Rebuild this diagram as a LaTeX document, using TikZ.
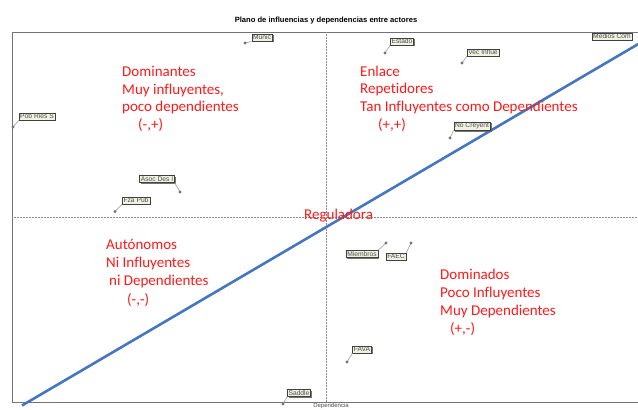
\documentclass[tikz,border=0pt]{standalone}
\usepackage{fontspec}
\setmainfont{Carlito}[Ligatures=NoCommon]
\newfontfamily\lblfont{Liberation Sans}
\usetikzlibrary{shadows}
\definecolor{regred}{RGB}{255,25,25}
\definecolor{diagblue}{RGB}{70,118,190}
\definecolor{boxfill}{RGB}{242,242,226}
\begin{document}
\begin{tikzpicture}[x=1pt,y=-1pt,
  actor/.style={draw=black!75, fill=boxfill, text=black!70, font=\lblfont\fontsize{6.7}{7.5}\selectfont, inner xsep=1.3pt, inner ysep=1.2pt, line width=0.5pt, drop shadow={shadow xshift=1.3pt, shadow yshift=-1.3pt, fill=black!60, opacity=0.9}},
  pindot/.style={fill=black!55, draw=none},
  pinline/.style={draw=black!35, line width=0.7pt},
  region/.style={text=regred, font=\fontsize{15}{18}\selectfont, inner sep=0pt, anchor=base west},
  frameline/.style={draw=black!55, line width=1pt},
  guide/.style={draw=black!45, densely dotted, line width=0.5pt},
]
\useasboundingbox (0,0) rectangle (638,410);
% title and axis caption
\node[font=\lblfont\bfseries\fontsize{7.6}{9}\selectfont, anchor=base] (title) at (326,22) {Plano de influencias y dependencias entre actores};
\node[font=\lblfont\fontsize{6}{7}\selectfont, text=black!70, anchor=north, inner sep=0.5pt] (xlab) at (331,402.5) {Dependencia};
% frame
\coordinate (tl) at (12,32);
\coordinate (tr) at (638,32);
\coordinate (bl) at (12,402);
\coordinate (br) at (638,402);
\draw[frameline] (tr) -- (tl) -- (bl) -- (br);
% guides
\coordinate (vt) at (326,32);
\coordinate (vb) at (326,402);
\coordinate (hl) at (12,217);
\coordinate (hr) at (638,217);
\draw[guide] (vt) -- (vb);
\draw[guide] (hl) -- (hr);
% diagonal
\coordinate (dA) at (22,405.5);
\coordinate (dB) at (640,43);
\draw[diagblue, line width=2.6pt] (dA) -- (dB);
% actors
\node[actor] (munic) at (262,37.5) {Munic};
\node[actor] (pob) at (37,116.5) {Pob Ries S};
\node[actor] (estado) at (402,41.5) {Estado};
\node[actor] (vec) at (483,52.5) {Vec Influe};
\node[actor] (medios) at (612,36.5) {Medios Com};
\node[actor] (nocre) at (472,126) {No Creyent};
\node[actor] (asoc) at (157,179) {Asoc Des I};
\node[actor] (fza) at (136,200.5) {Fza Pub};
\node[actor] (miem) at (362,254) {Miembros};
\node[actor] (faec) at (396,256.5) {FAEC};
\node[actor] (fava) at (362,349.5) {FAVA};
\node[actor] (saddle) at (299,393) {Saddle};
% pins
\coordinate (pmunic) at (245,43);
\coordinate (ppob) at (13,127);
\coordinate (pestado) at (385,53);
\coordinate (pvec) at (462,63);
\coordinate (pnocre) at (450,138);
\coordinate (pasoc) at (180,192);
\coordinate (pfza) at (115,211.5);
\coordinate (pmiem) at (386,243);
\coordinate (pfaec) at (411,243);
\coordinate (pfava) at (347,362);
\coordinate (psaddle) at (283,404);
\draw[pinline] (pmunic) -- (munic.south west);
\draw[pinline] (ppob) -- (pob.south west);
\draw[pinline] (pestado) -- (estado.south west);
\draw[pinline] (pvec) -- (vec.south west);
\draw[pinline] (pnocre) -- (nocre.south west);
\draw[pinline] (pasoc) -- (asoc.south east);
\draw[pinline] (pfza) -- (fza.south west);
\draw[pinline] (pmiem) -- (miem.north east);
\draw[pinline] (pfaec) -- (faec.north east);
\draw[pinline] (pfava) -- (fava.south west);
\draw[pinline] (psaddle) -- (saddle.south west);
\foreach \p in {pmunic,ppob,pestado,pvec,pnocre,pasoc,pfza,pmiem,pfaec,pfava,psaddle}
  \fill[pindot] (\p) circle (1.7pt);
% region texts
\node[region] (d1) at (122,76) {Dominantes};
\node[region] (d2) at (122,94) {Muy influyentes,};
\node[region] (d3) at (122,111.5) {poco dependientes};
\node[region] (d4) at (138,129.5) {(-,+)};
\node[region] (e1) at (360,76) {Enlace};
\node[region] (e2) at (360,93.5) {Repetidores};
\node[region] (e3) at (360,111.5) {Tan Influyentes como Dependientes};
\node[region] (e4) at (378,129.5) {(+,+)};
\node[region] (reg) at (304,219) {Reguladora};
\node[region] (a1) at (106,249) {Autónomos};
\node[region] (a2) at (106,267) {Ni Influyentes};
\node[region] (a3) at (109,285) {ni Dependientes};
\node[region] (a4) at (127,304) {(-,-)};
\node[region] (o1) at (440,279) {Dominados};
\node[region] (o2) at (440,297) {Poco Influyentes};
\node[region] (o3) at (440,315) {Muy Dependientes};
\node[region] (o4) at (450,333.5) {(+,-)};
\end{tikzpicture}
\end{document}
